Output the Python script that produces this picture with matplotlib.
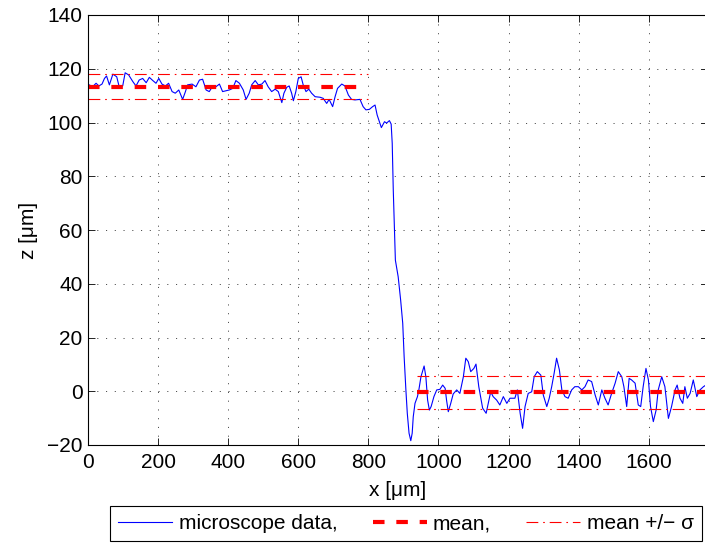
import matplotlib
matplotlib.use("Agg")
import matplotlib.pyplot as plt
from matplotlib.lines import Line2D

plt.rcParams['font.family'] = ['Liberation Sans', 'DejaVu Sans']
plt.rcParams['lines.scale_dashes'] = False

# profile (x and z in micrometres)
x_um = [0, 4, 13, 23, 31, 40, 47, 53, 61, 71, 82, 89, 99, 106, 116, 128, 137, 146, 156, 166, 175,
        185, 194, 202, 211, 221, 230, 240, 249, 259, 270, 278, 284, 297, 308, 318, 327, 337, 346, 356, 365,
        375, 384, 394, 403, 413, 422, 432, 443, 451, 460, 467, 477, 486, 496, 505, 514, 524, 534, 543, 553,
        559, 567, 574, 581, 586, 593, 600, 608, 614, 622, 630, 638, 648, 662, 671, 681, 688, 698, 705, 712,
        724, 733, 743, 752, 762, 776, 785, 793, 803, 812, 819, 825, 833, 837, 846, 852, 860, 865, 868, 871,
        874, 877, 885, 892, 898, 902, 907, 911, 916, 921, 925, 928, 933, 940, 944, 950, 959, 964, 969, 974,
        979, 987, 995, 1004, 1012, 1019, 1023, 1028, 1035, 1042, 1052, 1061, 1071, 1078, 1085, 1092, 1101, 1107, 1115, 1126,
        1136, 1142, 1149, 1156, 1166, 1175, 1185, 1195, 1204, 1218, 1225, 1233, 1240, 1247, 1256, 1266, 1273, 1282, 1292, 1299,
        1309, 1316, 1323, 1330, 1337, 1345, 1352, 1361, 1370, 1380, 1389, 1399, 1409, 1418, 1427, 1437, 1447, 1456, 1466, 1475,
        1484, 1494, 1504, 1513, 1523, 1529, 1537, 1544, 1551, 1561, 1570, 1577, 1584, 1592, 1599, 1605, 1613, 1621, 1627, 1637,
        1646, 1656, 1665, 1675, 1681, 1689, 1697, 1703, 1710, 1718, 1727, 1737, 1746, 1756, 1763]
z_um = [113.5, 114.0, 113.3, 114.6, 113.6, 114.3, 116.4, 117.3, 114.0, 118.0, 117.0,
        113.3, 113.6, 118.5, 117.7, 115.2, 113.6, 115.8, 116.4, 114.8, 116.8,
        115.6, 114.6, 116.4, 114.3, 113.6, 114.6, 111.5, 110.9, 112.1, 108.6,
        111.5, 114.0, 114.3, 113.3, 115.8, 116.1, 112.1, 111.5, 113.6, 113.3,
        114.3, 111.5, 111.8, 112.1, 112.7, 115.6, 114.6, 112.1, 108.6, 110.9,
        114.0, 115.6, 114.0, 114.3, 115.6, 113.3, 111.5, 112.4, 111.5, 107.4,
        110.9, 113.1, 113.6, 110.9, 108.1, 111.5, 116.4, 117.0, 114.0, 111.5,
        112.4, 110.9, 109.6, 109.4, 109.0, 107.1, 108.6, 105.9, 109.6, 112.7,
        114.3, 113.6, 110.2, 108.6, 108.4, 108.6, 105.9, 104.7, 104.9, 105.9,
        106.5, 102.8, 99.7, 98.1, 100.3, 99.8, 100.7, 99.4, 92.3, 74.9,
        62.5, 48.8, 42.6, 34.0, 25.3, 12.9, 0.5, -8.2, -15.6, -18.4,
        -15.6, -9.5, -4.5, -2.0, 0.5, 5.4, 9.4, 5.4, -3.3, -7.0,
        -5.7, -2.0, 0.5, 0.7, 2.3, 1.1, -3.3, -7.6, -4.5, -1.0,
        0.5, -0.8, 5.4, 12.3, 11.0, 7.3, 8.5, 10.1, 1.7, -6.3,
        -8.2, -4.5, -0.2, -2.0, -3.3, -5.1, -2.0, -4.5, -2.6, -2.6,
        0.5, -8.2, -13.8, -5.7, -0.8, -0.2, 5.4, 7.3, 6.0, -1.4,
        -5.7, -2.6, 1.7, 6.7, 12.3, 7.9, 0.5, -2.0, -2.6, 0.5,
        1.7, 1.7, 0.5, 1.7, 4.2, 3.6, -1.4, -5.1, 0.5, -2.6,
        -5.1, -0.8, 3.0, 7.3, 5.4, 1.7, -5.7, 4.8, 4.2, 3.0,
        -5.1, -5.7, 1.7, 8.5, 4.2, -5.7, -11.3, -7.0, 0.5, 5.4,
        1.7, -10.1, -5.7, 0.5, 2.3, -2.6, -4.5, 1.7, -2.6, -0.8,
        4.2, -2.0, 0.5, 1.7, 2.3]

# plateau statistics: [x start, x end], mean, sigma
top_range = [0, 800]
top_mean, top_sigma = 113.3, 4.6
bottom_range = [940, 1763]
bottom_mean, bottom_sigma = -0.4, 6.2

x_ticks = [0, 200, 400, 600, 800, 1000, 1200, 1400, 1600]
z_ticks = [-20, 0, 20, 40, 60, 80, 100, 120, 140]

W, H = 705, 545
fig = plt.figure(figsize=(W / 100, H / 100), dpi=100)
ax = fig.add_axes([88 / W, 1 - 445 / H, 620 / W, 430 / H])

mean_style = dict(color='red', lw=3.0, dashes=(8.3, 8.5))
sig_style = dict(color='red', lw=0.8, dashes=(8.5, 3.5, 1.2, 3.5))

ax.plot(x_um, z_um, color='blue', lw=0.8)
for rng, m in [(top_range, top_mean), (bottom_range, bottom_mean)]:
    ax.plot(rng, [m, m], **mean_style)
for rng, m, s in [(top_range, top_mean, top_sigma), (bottom_range, bottom_mean, bottom_sigma)]:
    ax.plot(rng, [m + s, m + s], **sig_style)
    ax.plot(rng, [m - s, m - s], **sig_style)

ax.set_xlim(0, 1769)
ax.set_ylim(-20, 140)
ax.set_xticks(x_ticks)
ax.set_yticks(z_ticks)
ax.tick_params(direction='in', length=5, width=0.6, top=True, right=True, labelsize=15)
ax.tick_params(axis='x', pad=5.5)
ax.tick_params(axis='y', pad=4)
ax.grid(True, color='0.3', lw=0.7, linestyle=(0, (0.8, 5.5)))
for sp in ax.spines.values():
    sp.set_linewidth(0.8)

ax.set_xlabel('x [\u03bcm]', fontsize=15)
ax.set_ylabel('z [\u03bcm]', fontsize=15)
ax.xaxis.set_label_coords(0.5, -0.083)
ax.yaxis.set_label_coords(-0.08, 0.5)

handles = [Line2D([], [], color='blue', lw=0.8),
           Line2D([], [], **mean_style),
           Line2D([], [], **sig_style)]
labels = ['microscope data,', 'mean,', 'mean +/\u2212 \u03c3']
leg = fig.legend(handles, labels, loc='center', ncol=3, mode='expand',
                 bbox_to_anchor=(110 / W, 1 - 543 / H, 592 / W, 39 / H),
                 fontsize=15, handlelength=2.6, handletextpad=0.3, columnspacing=0.6,
                 fancybox=False, framealpha=1, edgecolor='black', borderaxespad=0)
leg.get_frame().set_linewidth(0.8)

fig.savefig('out.png', dpi=100)
